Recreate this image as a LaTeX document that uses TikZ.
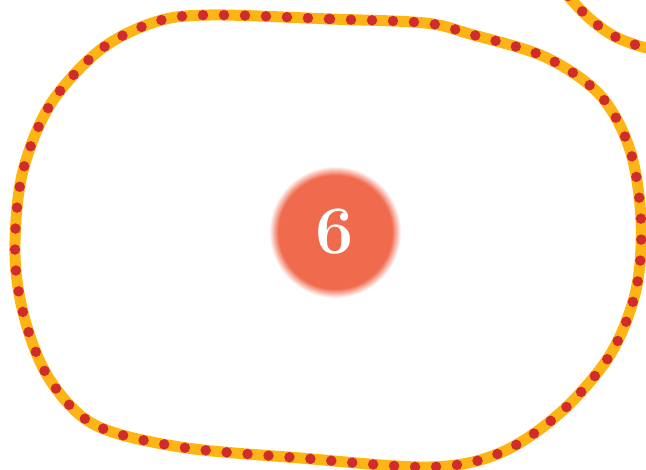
\documentclass[tikz,border=0pt]{standalone}
\definecolor{trackorange}{HTML}{FDB515}
\definecolor{trackred}{HTML}{D22B2B}
\definecolor{bubblered}{HTML}{F06A4E}
\pgfdeclareradialshading{bubblefade}{\pgfpoint{0bp}{0bp}}{%
  color(0bp)=(bubblered); color(21.5bp)=(bubblered);
  color(25bp)=(white); color(50bp)=(white)}

\begin{document}
\begin{tikzpicture}[
    x=1pt, y=-1pt,
    track/.style={trackorange, line width=11pt, line join=round},
    dots/.style={trackred, line width=10.5pt, line cap=round,
                 dash pattern=on 0pt off 21pt},
    bubble/.style={circle, minimum size=132pt, inner sep=0pt,
                   shading=bubblefade, text=white,
                   font=\fontsize{68}{68}\selectfont\bfseries}
]
\useasboundingbox (0,0) rectangle (646,470);

% ── Zone outline ──
\foreach \s in {track, dots}
  \draw[\s] plot[smooth cycle, tension=0.55] coordinates {
    (210,15) (330,19) (425,23) (470,34) (545,57) (600,95) (630,150)
    (641,220) (636,290) (610,355) (560,413) (500,453) (430,467)
    (300,458) (180,447) (95,425) (50,380) (25,320) (15,255)
    (22,175) (50,105) (100,50) (155,22)};

% ── Neighbouring zone (cut off) ──
\foreach \s in {track, dots}
  \draw[\s] plot[smooth, tension=0.6] coordinates {
    (568,-4) (588,17) (612,35) (636,45) (652,49)};

% ── Zone number ──
\node[bubble] (zone) at (335,232) {6};

\end{tikzpicture}
\end{document}
